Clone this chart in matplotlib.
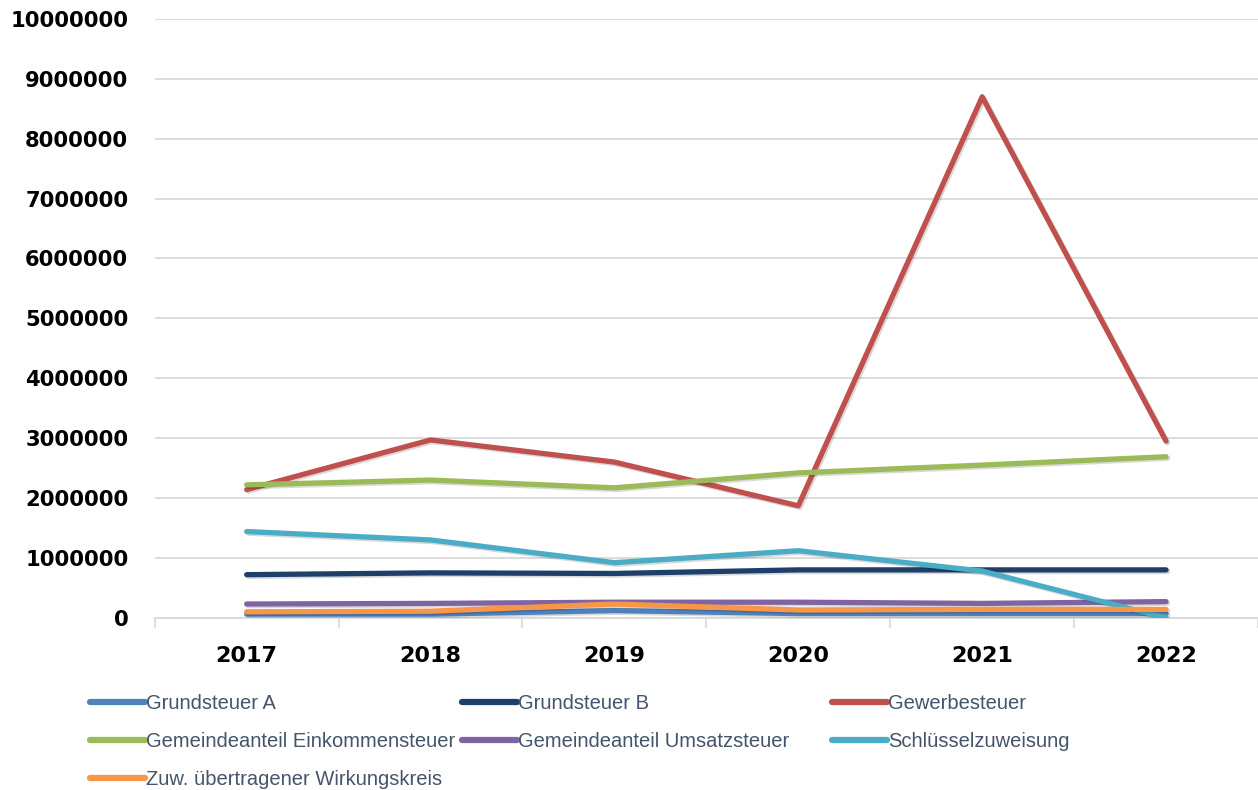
import matplotlib
matplotlib.use("Agg")
import matplotlib.pyplot as plt
from matplotlib import patheffects as pe

years = ["2017", "2018", "2019", "2020", "2021", "2022"]

grundsteuer_a = [60000, 60000, 120000, 70000, 70000, 70000]
grundsteuer_b = [720000, 750000, 740000, 800000, 800000, 800000]
gewerbesteuer = [2140000, 2970000, 2600000, 1870000, 8700000, 2950000]
einkommensteuer = [2220000, 2300000, 2170000, 2420000, 2550000, 2690000]
umsatzsteuer = [230000, 240000, 260000, 260000, 240000, 270000]
schluessel = [1440000, 1300000, 920000, 1120000, 780000, 0]
zuweisung = [100000, 110000, 230000, 130000, 140000, 140000]

series = [
    ("Grundsteuer A", grundsteuer_a, "#4F81BD"),
    ("Grundsteuer B", grundsteuer_b, "#1F3F6B"),
    ("Gewerbesteuer", gewerbesteuer, "#C0504D"),
    ("Gemeindeanteil Einkommensteuer", einkommensteuer, "#9BBB59"),
    ("Gemeindeanteil Umsatzsteuer", umsatzsteuer, "#8064A2"),
    ("Schlüsselzuweisung", schluessel, "#4BACC6"),
    ("Zuw. übertragener Wirkungskreis", zuweisung, "#F79646"),
]

fig = plt.figure(figsize=(12.58, 7.9), dpi=100)
ax = fig.add_axes([0.123, 0.218, 0.877, 0.758])

x = list(range(len(years)))
shadow = [pe.SimpleLineShadow(offset=(1.2, -1.2), alpha=0.15), pe.Normal()]
lines = []
for name, vals, color in series:
    ln, = ax.plot(x, vals, color=color, lw=3.8, solid_capstyle="round",
                  path_effects=shadow, label=name, zorder=3)
    lines.append(ln)

ax.set_xlim(-0.5, len(years) - 0.5)
ax.set_ylim(0, 10000000)
ax.set_yticks(range(0, 10000001, 1000000))
ax.set_yticklabels([str(v) for v in range(0, 10000001, 1000000)],
                   fontsize=15.2, fontweight="bold", family="DejaVu Sans")
ax.set_xticks(x)
ax.set_xticklabels(years, fontsize=16, fontweight="bold", family="DejaVu Sans")
ax.set_xticks([i - 0.5 for i in range(len(years) + 1)], minor=True)
ax.tick_params(axis="x", which="major", length=0, pad=20)
ax.tick_params(axis="x", which="minor", length=7, color="#D9D9D9", width=1.2)
ax.tick_params(axis="y", length=0, pad=19)
ax.grid(axis="y", color="#D9D9D9", lw=1.3, zorder=0)
for s in ["left", "right", "top"]:
    ax.spines[s].set_visible(False)
ax.spines["bottom"].set_color("#D9D9D9")
ax.spines["bottom"].set_linewidth(1.3)

cols = [[0, 3, 6], [1, 4], [2, 5]]
col_x = [90, 462, 832]
for cx, idx in zip(col_x, cols):
    leg = fig.legend([lines[i] for i in idx], [series[i][0] for i in idx],
                     loc="upper left", bbox_to_anchor=(cx / 1258, 1 - 694 / 790),
                     frameon=False, handlelength=2.75, handletextpad=0.05,
                     labelspacing=0.95, borderaxespad=0, borderpad=0,
                     prop={"family": "Liberation Sans", "size": 14.5})
    for t in leg.get_texts():
        t.set_color("#44546A")
    for h in leg.legend_handles:
        h.set_path_effects([])
        h.set_linewidth(4.5)

fig.savefig("out.png", dpi=100)
